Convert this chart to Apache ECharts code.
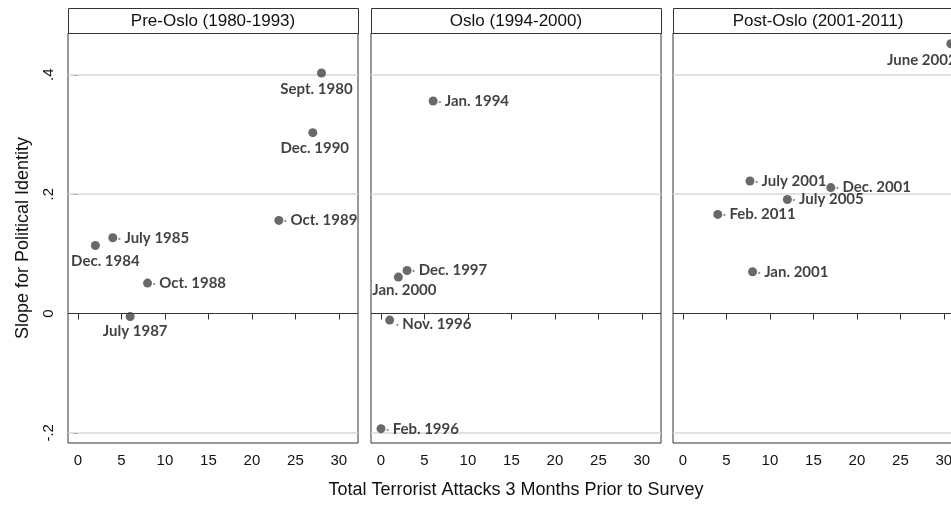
<!DOCTYPE html>
<html>
<head>
<meta charset="utf-8">
<script src="https://cdn.jsdelivr.net/npm/echarts@6/dist/echarts.min.js"></script>
<style>
  html, body { margin: 0; padding: 0; background: #fff; overflow: hidden; }
  #chart { width: 951px; height: 512px; }
</style>
</head>
<body>
<div id="chart"></div>
<script>
// panel titles
const panelTitles = ['Pre-Oslo (1980-1993)', 'Oslo (1994-2000)', 'Post-Oslo (2001-2011)'];

// Pre-Oslo surveys
const preNames = ['Sept. 1980', 'Dec. 1990', 'Oct. 1989', 'July 1985', 'Dec. 1984', 'Oct. 1988', 'July 1987'];
const preAttacks = [28, 27, 23.1, 4, 2, 8, 6];
const preSlopes = [0.403, 0.303, 0.156, 0.127, 0.114, 0.051, -0.005];

// Oslo surveys
const osloNames = ['Jan. 1994', 'Dec. 1997', 'Jan. 2000', 'Nov. 1996', 'Feb. 1996'];
const osloAttacks = [6, 3, 2, 1, 0];
const osloSlopes = [0.356, 0.072, 0.061, -0.011, -0.193];

// Post-Oslo surveys
const postNames = ['June 2002', 'July 2001', 'Dec. 2001', 'July 2005', 'Feb. 2011', 'Jan. 2001'];
const postAttacks = [30.8, 7.7, 17, 12, 4, 8];
const postSlopes = [0.452, 0.222, 0.211, 0.191, 0.166, 0.070];

// ticks
const xTicks = [0, 5, 10, 15, 20, 25, 30];
const yTicks = [-0.2, 0, 0.2, 0.4];
const yTickLabels = ['-.2', '0', '.2', '.4'];

// where each label sits relative to its marker (style only)
const labelPlacement = {
  'Sept. 1980': { below: true, offset: [-5, 16] },
  'Dec. 1990': { below: true, offset: [2, 15] },
  'Dec. 1984': { below: true, offset: [10, 16] },
  'July 1987': { below: true, offset: [5, 15] },
  'Jan. 2000': { below: true, offset: [6, 13] },
  'June 2002': { below: true, offset: [-29, 16] },
  'Nov. 1996': { offset: [6, 4] }
};

const panels = [
  { names: preNames, xs: preAttacks, ys: preSlopes },
  { names: osloNames, xs: osloAttacks, ys: osloSlopes },
  { names: postNames, xs: postAttacks, ys: postSlopes }
];

// panel geometry; the third panel runs past the right edge of the picture
const gridLeft = [68, 371, 673];
const gridW = 290, gridTop = 33, gridH = 410, stripTop = 8;

const chart = echarts.init(document.getElementById('chart'));

const grids = gridLeft.map(l => ({
  left: l, top: gridTop, width: gridW, height: gridH,
  outerBoundsMode: 'none', containLabel: false,
  show: true, borderColor: '#333', borderWidth: 1, backgroundColor: '#fff'
}));

const xAxes = gridLeft.map((l, i) => ({
  type: 'value', gridIndex: i, min: -1.15, max: 32.2,
  splitLine: { show: false },
  axisLine: { show: false },
  axisTick: { show: true, customValues: xTicks, length: 6, lineStyle: { color: '#333' } },
  axisLabel: {
    customValues: xTicks, color: '#111', fontSize: 15, margin: 10,
    fontFamily: 'Liberation Sans'
  },
  name: i === 1 ? 'Total Terrorist Attacks 3 Months Prior to Survey' : '',
  nameLocation: 'middle', nameGap: 38,
  nameTextStyle: { fontSize: 18, color: '#111', fontFamily: 'Liberation Sans' }
}));

const yAxes = gridLeft.map((l, i) => ({
  type: 'value', gridIndex: i, min: -0.217, max: 0.47,
  splitLine: { show: false },
  axisLine: { show: false },
  axisTick: { show: i === 0, customValues: yTicks, length: 5, lineStyle: { color: '#333' } },
  axisLabel: {
    show: i === 0, customValues: yTicks, rotate: 90, color: '#111', fontSize: 15, margin: 12,
    fontFamily: 'Liberation Sans',
    formatter: v => yTickLabels[yTicks.findIndex(t => Math.abs(t - v) < 1e-9)]
  },
  name: i === 0 ? 'Slope for Political Identity' : '',
  nameLocation: 'middle', nameRotate: 90, nameGap: 36,
  nameTextStyle: { fontSize: 18, color: '#111', fontFamily: 'Liberation Sans' }
}));

const series = panels.map((p, i) => ({
  type: 'scatter', xAxisIndex: i, yAxisIndex: i,
  symbolSize: 9,
  itemStyle: { color: '#444' },
  data: p.names.map((n, k) => {
    const pl = labelPlacement[n] || {};
    return {
      name: n, value: [p.xs[k], p.ys[k]],
      label: pl.below
        ? { position: 'inside', align: 'center', offset: pl.offset, formatter: '{t|{b}}' }
        : { position: 'inside', align: 'left', offset: pl.offset || [5, 0], formatter: '{d|·} {t|{b}}' }
    };
  }),
  label: {
    show: true,
    rich: {
      t: { fontFamily: 'Lato', fontWeight: 'bold', fontSize: 15, color: '#111' },
      d: { fontFamily: 'Lato', fontWeight: 'bold', fontSize: 12, color: '#777' }
    }
  },
  markLine: {
    silent: true, symbol: 'none', label: { show: false }, z: 1,
    data: [
      { yAxis: 0.4, lineStyle: { color: '#d9d9d9', width: 1.5, type: 'solid' } },
      { yAxis: 0.2, lineStyle: { color: '#d9d9d9', width: 1.5, type: 'solid' } },
      { yAxis: -0.2, lineStyle: { color: '#d9d9d9', width: 1.5, type: 'solid' } },
      { yAxis: 0, lineStyle: { color: '#333', width: 1, type: 'solid' } }
    ]
  }
}));

const graphic = [];
gridLeft.forEach((l, i) => {
  graphic.push({
    type: 'rect', left: l, top: stripTop,
    shape: { width: gridW, height: gridTop - stripTop },
    style: { fill: '#fff', stroke: '#333', lineWidth: 1 }
  });
  graphic.push({
    type: 'text', x: l + gridW / 2, y: (stripTop + gridTop) / 2 + 0.5,
    style: {
      text: panelTitles[i], fontSize: 17, fontFamily: 'Liberation Sans', fill: '#111',
      align: 'center', verticalAlign: 'middle'
    }
  });
});

chart.setOption({
  animation: false,
  backgroundColor: '#fff',
  grid: grids,
  xAxis: xAxes,
  yAxis: yAxes,
  series: series,
  graphic: graphic
});
</script>
</body>
</html>
